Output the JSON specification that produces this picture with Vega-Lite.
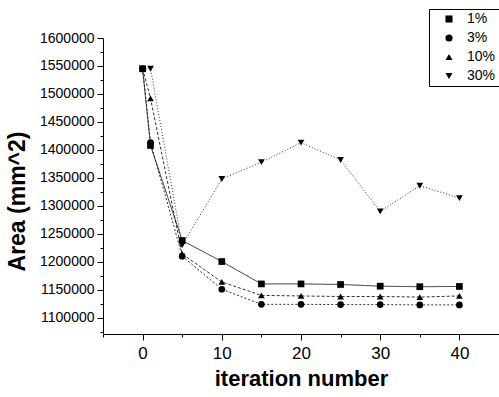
{
  "$schema": "https://vega.github.io/schema/vega-lite/v6.json",
  "autosize": "none",
  "width": 396,
  "height": 296,
  "padding": {"left": 103, "top": 38, "right": 0, "bottom": 63},
  "background": "white",
  "config": {
    "view": {"stroke": null},
    "font": "Liberation Sans",
    "legend": {
      "orient": "none",
      "legendX": 326,
      "legendY": -29,
      "strokeColor": "black",
      "padding": 3,
      "symbolSize": 50,
      "symbolFillColor": "black",
      "symbolStrokeColor": "black",
      "symbolOffset": 10,
      "labelOffset": 11,
      "labelFontSize": 14,
      "labelColor": "black",
      "rowPadding": 5
    }
  },
  "data": {
    "values": [
      {"series": "1%", "iter": 0, "area": 1545000},
      {"series": "1%", "iter": 1, "area": 1408000},
      {"series": "1%", "iter": 5, "area": 1238000},
      {"series": "1%", "iter": 10, "area": 1200500},
      {"series": "1%", "iter": 15, "area": 1160500},
      {"series": "1%", "iter": 20, "area": 1160500},
      {"series": "1%", "iter": 25, "area": 1159500},
      {"series": "1%", "iter": 30, "area": 1156500},
      {"series": "1%", "iter": 35, "area": 1155500},
      {"series": "1%", "iter": 40, "area": 1156000},
      {"series": "3%", "iter": 0, "area": 1545000},
      {"series": "3%", "iter": 1, "area": 1413000},
      {"series": "3%", "iter": 5, "area": 1210000},
      {"series": "3%", "iter": 10, "area": 1151000},
      {"series": "3%", "iter": 15, "area": 1124000},
      {"series": "3%", "iter": 20, "area": 1124000},
      {"series": "3%", "iter": 25, "area": 1123500},
      {"series": "3%", "iter": 30, "area": 1123500},
      {"series": "3%", "iter": 35, "area": 1123000},
      {"series": "3%", "iter": 40, "area": 1123000},
      {"series": "10%", "iter": 0, "area": 1545000},
      {"series": "10%", "iter": 1, "area": 1492000},
      {"series": "10%", "iter": 5, "area": 1214000},
      {"series": "10%", "iter": 10, "area": 1164000},
      {"series": "10%", "iter": 15, "area": 1140000},
      {"series": "10%", "iter": 20, "area": 1139000},
      {"series": "10%", "iter": 25, "area": 1138000},
      {"series": "10%", "iter": 30, "area": 1138000},
      {"series": "10%", "iter": 35, "area": 1137000},
      {"series": "10%", "iter": 40, "area": 1139000},
      {"series": "30%", "iter": 0, "area": 1545000},
      {"series": "30%", "iter": 1, "area": 1545000},
      {"series": "30%", "iter": 5, "area": 1230000},
      {"series": "30%", "iter": 10, "area": 1348000},
      {"series": "30%", "iter": 15, "area": 1378000},
      {"series": "30%", "iter": 20, "area": 1413000},
      {"series": "30%", "iter": 25, "area": 1382000},
      {"series": "30%", "iter": 30, "area": 1290000},
      {"series": "30%", "iter": 35, "area": 1336000},
      {"series": "30%", "iter": 40, "area": 1314000}
    ]
  },
  "encoding": {
    "x": {
      "field": "iter",
      "type": "quantitative",
      "scale": {"domain": [-5, 45], "nice": false, "zero": false},
      "axis": {
        "title": "iteration number",
        "titleFontSize": 22,
        "titleFontWeight": "bold",
        "titleColor": "black",
        "titleBaseline": "alphabetic",
        "titleY": 51,
        "values": [-5, 0, 5, 10, 15, 20, 25, 30, 35, 40, 45],
        "labelExpr": "(datum.value % 10 === 0 && datum.value >= 0 && datum.value <= 40) ? datum.label : ''",
        "labelFontSize": 17,
        "labelColor": "black",
        "labelPadding": 5,
        "grid": false,
        "domainColor": "black",
        "tickColor": "black",
        "tickSize": {"condition": {"test": "datum.value % 10 === 0", "value": 6}, "value": 3}
      }
    },
    "y": {
      "field": "area",
      "type": "quantitative",
      "scale": {"domain": [1071000, 1600000], "nice": false, "zero": false},
      "axis": {
        "title": "Area (mm^2)",
        "titleFontSize": 23,
        "titleFontWeight": "bold",
        "titleColor": "black",
        "titleX": -86,
        "titleY": 163,
        "titleAlign": "center",
        "titleBaseline": "middle",
        "values": [1075000, 1100000, 1125000, 1150000, 1175000, 1200000, 1225000, 1250000, 1275000, 1300000, 1325000, 1350000, 1375000, 1400000, 1425000, 1450000, 1475000, 1500000, 1525000, 1550000, 1575000, 1600000],
        "labelExpr": "datum.value % 50000 === 0 ? format(datum.value, 'd') : ''",
        "labelFontSize": 14,
        "labelColor": "black",
        "labelPadding": 3,
        "grid": false,
        "domainColor": "black",
        "tickColor": "black",
        "tickSize": {"condition": {"test": "datum.value % 50000 === 0", "value": 6}, "value": 3}
      }
    }
  },
  "layer": [
    {
      "mark": {"type": "line", "color": "black", "strokeWidth": 1, "strokeOpacity": 0.8},
      "encoding": {
        "strokeDash": {
          "field": "series",
          "type": "nominal",
          "scale": {"domain": ["1%", "3%", "10%", "30%"], "range": [[1, 0], [2, 2], [3, 2], [1, 2]]},
          "legend": {"title": null}
        }
      }
    },
    {
      "mark": {"type": "point", "filled": true, "color": "black", "size": 45, "opacity": 1},
      "encoding": {
        "shape": {
          "field": "series",
          "type": "nominal",
          "scale": {"domain": ["1%", "3%", "10%", "30%"], "range": ["square", "circle", "triangle-up", "triangle-down"]},
          "legend": {"title": null}
        }
      }
    }
  ]
}
